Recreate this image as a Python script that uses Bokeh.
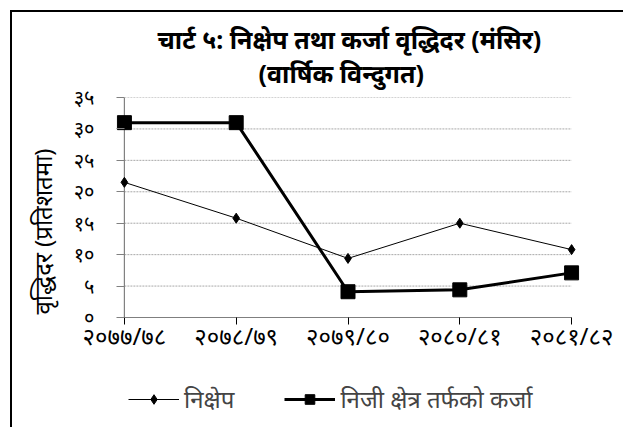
from bokeh.plotting import figure
from bokeh.layouts import column
from bokeh.models import (Range1d, FixedTicker, Legend, LegendItem, Title,
                          ColumnDataSource)
from bokeh.embed import file_html
from bokeh.resources import INLINE

# ---- data ----
categories = ["२०७७/७८", "२०७८/७९", "२०७९/८०", "२०८०/८१", "२०८१/८२"]
deposits = [21.5, 15.8, 9.4, 15.0, 10.8]
private_credit = [31.0, 31.0, 4.1, 4.4, 7.1]
y_ticks = [0, 5, 10, 15, 20, 25, 30, 35]
y_tick_labels = ["०", "५", "१०", "१५", "२०", "२५", "३०", "३५"]
series_names = ["निक्षेप", "निजी क्षेत्र तर्फको कर्जा"]
title_line1 = "चार्ट ५: निक्षेप तथा कर्जा वृद्धिदर (मंसिर)"
title_line2 = "(वार्षिक विन्दुगत)"
y_label = "वृद्धिदर (प्रतिशतमा)"

FONT = "Noto Sans"
xs = list(range(len(categories)))
PAD = 0.0706
W = 611

dep_style = dict(line_color="black", line_width=1)
dep_marker = dict(marker="diamond", size=10, fill_color="black", line_color="black")
cred_style = dict(line_color="black", line_width=3)
cred_marker = dict(marker="square", size=14, fill_color="black", line_color="black")

p = figure(width=W, height=355, output_backend="svg", toolbar_location=None,
           x_range=Range1d(xs[0] - PAD, xs[-1] + PAD),
           y_range=Range1d(y_ticks[0], y_ticks[-1]),
           min_border_left=98, min_border_right=W - 98 - 469, min_border_top=85,
           min_border_bottom=50)
p.outline_line_color = None
p.background_fill_color = "white"
p.border_fill_color = "white"

# y axis
yax = p.yaxis[0]
yax.ticker = FixedTicker(ticks=y_ticks)
yax.major_label_overrides = {t: l for t, l in zip(y_ticks, y_tick_labels)}
yax.axis_line_color = None
yax.major_tick_line_color = "#808080"
yax.major_tick_out = 0
yax.major_tick_in = 8
yax.minor_tick_line_color = None
yax.major_label_text_font = FONT
yax.major_label_text_font_size = "20px"
yax.major_label_text_color = "black"
yax.major_label_standoff = 22

# x axis
xax = p.xaxis[0]
xax.ticker = FixedTicker(ticks=xs)
xax.major_label_overrides = {i: c for i, c in zip(xs, categories)}
xax.axis_line_color = None
xax.major_tick_line_color = "black"
xax.major_tick_out = 7
xax.major_tick_in = 0
xax.minor_tick_line_color = None
xax.major_label_text_font = FONT
xax.major_label_text_font_size = "24px"
xax.major_label_text_color = "black"
xax.major_label_standoff = -6

p.xgrid.grid_line_color = None
p.ygrid.grid_line_color = None

# dotted horizontal grid between first and last category
gy = y_ticks[1:]
p.segment(x0=[xs[0]] * len(gy), x1=[xs[-1]] * len(gy), y0=gy, y1=gy,
          line_color="#a8a8a8", line_width=1, line_dash="2 1")
# axis lines
p.line(x=[xs[0], xs[0]], y=[y_ticks[0], y_ticks[-1]], line_color="#808080", line_width=1.2)
p.line(x=[xs[0], xs[-1]], y=[y_ticks[0], y_ticks[0]], line_color="black", line_width=1.2)

src = ColumnDataSource(dict(x=xs, dep=deposits, cred=private_credit))
p.line("x", "dep", source=src, **dep_style)
p.scatter("x", "dep", source=src, **dep_marker)
p.line("x", "cred", source=src, **cred_style)
p.scatter("x", "cred", source=src, **cred_marker)

# y axis title
ytitle = Title(text=y_label, align="left", offset=3, text_font=FONT,
               text_font_size="24px", text_font_style="normal",
               text_color="black", standoff=23)
p.add_layout(ytitle, "left")

t2 = Title(text=title_line2, align="left", text_font=FONT,
           text_font_size="25px", text_font_style="bold", offset=142,
           text_color="black", standoff=15)
t1 = Title(text=title_line1, align="left", text_font=FONT,
           text_font_size="25px", text_font_style="bold", offset=41,
           text_color="black", standoff=-18)
p.add_layout(t2, "above")
p.add_layout(t1, "above")

# ---- legend strip below the chart (series drawn out of view, legend only) ----
q = figure(width=W, height=60, output_backend="svg", toolbar_location=None,
           x_range=Range1d(100, 101), y_range=Range1d(100, 101),
           x_axis_type=None, y_axis_type=None, min_border=0)
q.outline_line_color = None
q.xgrid.grid_line_color = None
q.ygrid.grid_line_color = None
l1 = q.line(xs, deposits, **dep_style)
m1 = q.scatter(xs, deposits, **dep_marker)
l2 = q.line(xs, private_credit, **cred_style)
m2 = q.scatter(xs, private_credit, **cred_marker)
legend = Legend(items=[LegendItem(label=series_names[0], renderers=[l1, m1]),
                       LegendItem(label=series_names[1], renderers=[l2, m2])],
                orientation="horizontal", location=(12, 12),
                glyph_width=51, glyph_height=24, label_height=24,
                label_text_font=FONT, label_text_font_size="24px",
                spacing=50, label_standoff=5, padding=5,
                border_line_color=None, background_fill_alpha=0, margin=0)
q.add_layout(legend, "center")

layout = column(p, q, spacing=0,
                styles={"margin-left": "10px", "margin-top": "10px",
                        "border-top": "2px solid #000",
                        "border-left": "2px solid #000"})

open("out.html", "w").write(file_html(layout, INLINE))
